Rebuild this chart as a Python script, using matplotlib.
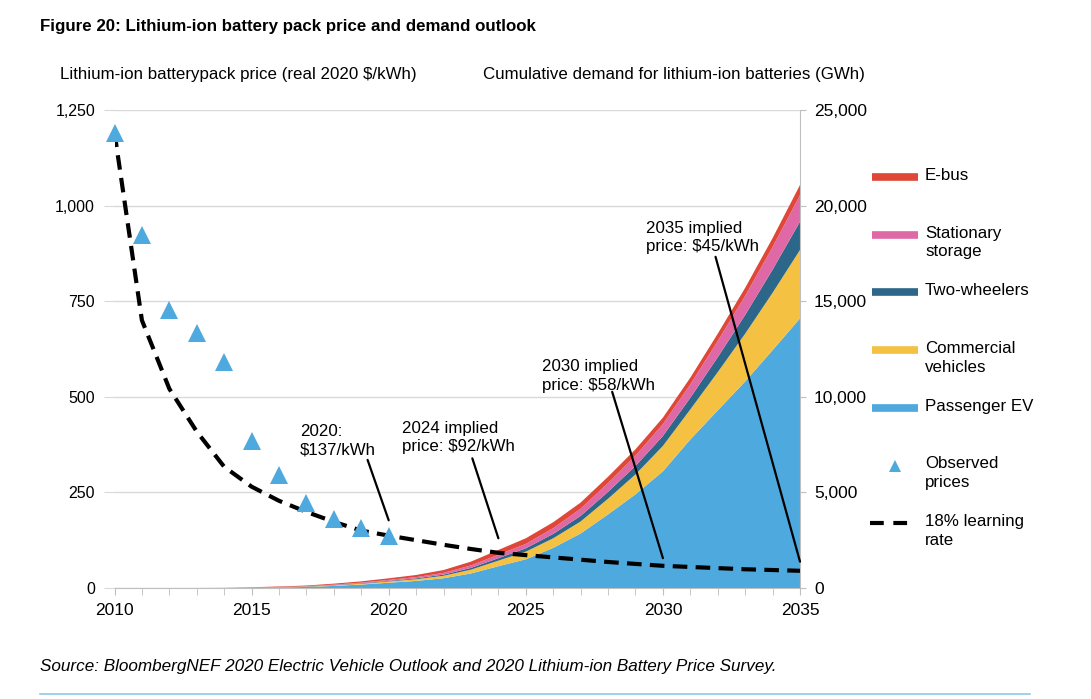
import matplotlib
matplotlib.use("Agg")
import matplotlib.pyplot as plt
from matplotlib.lines import Line2D
import numpy as np

plt.rcParams['font.family'] = ['Liberation Sans', 'DejaVu Sans']

# ---- data ----
years = list(range(2010, 2036))

# observed pack prices, real 2020 $/kWh
obs_years = list(range(2010, 2021))
obs_price = [1191, 924, 726, 668, 592, 384, 295, 221, 181, 157, 137]

# 18% learning-rate curve, $/kWh
learning_price = [1191, 700, 521, 409, 317, 265, 228, 199, 173, 150, 137,
                  125, 113, 102, 92, 86, 80, 74, 68, 63, 58, 55, 52, 49, 47, 45]

# cumulative demand by segment, GWh
passenger_ev = [0, 0, 0, 0, 1, 12, 30, 55, 110, 180, 277, 370, 510, 760, 1140,
                1500, 2100, 2850, 3850, 4900, 6100, 7770, 9290, 10800, 12440, 14100]
commercial = [0, 0, 0, 0, 1, 6, 12, 18, 30, 45, 65, 90, 130, 200, 290,
              400, 500, 630, 820, 1040, 1330, 1570, 2000, 2500, 3000, 3580]
two_wheelers = [0, 0, 0, 0, 1, 4, 7, 12, 18, 24, 32, 45, 60, 90, 130,
                175, 230, 290, 360, 440, 520, 610, 780, 980, 1210, 1480]
stationary = [0, 0, 0, 0, 0, 3, 6, 10, 20, 33, 50, 65, 90, 130, 180,
              230, 300, 380, 460, 540, 620, 700, 850, 1000, 1180, 1390]
ebus = [0, 0, 0, 0, 3, 15, 25, 35, 50, 66, 83, 110, 150, 200, 250,
        295, 310, 320, 330, 335, 340, 350, 380, 420, 470, 530]

seg_colors = ['#4ea9de', '#f4c143', '#2c6688', '#df69a6', '#df4738']

annotations = [
    ("2020:\n$137/kWh", 2020),
    ("2024 implied\nprice: $92/kWh", 2024),
    ("2030 implied\nprice: $58/kWh", 2030),
    ("2035 implied\nprice: $45/kWh", 2035),
]

W, H = 1091, 699
fig = plt.figure(figsize=(W / 100, H / 100), dpi=100)
fig.patch.set_facecolor('white')

def fx(px):
    return px / W

def fy(py):
    return 1 - py / H

ax = fig.add_axes([fx(114.5), fy(588), fx(800) - fx(114.5), fy(110) - fy(588)])
ax2 = ax.twinx()
ax.set_zorder(ax2.get_zorder() + 1)
ax.patch.set_visible(False)

grey = '#bfbfbf'

# stacked demand on the right axis
ax2.stackplot(years, passenger_ev, commercial, two_wheelers, stationary, ebus,
              colors=seg_colors, linewidth=0)
ax2.set_ylim(0, 25000)
ax2.set_yticks(np.arange(0, 25001, 5000))
ax2.set_yticklabels([f"{v:,}" for v in range(0, 25001, 5000)])
ax2.grid(axis='y', color='#d9d9d9', linewidth=1)
ax2.set_axisbelow(True)
ax2.tick_params(axis='y', length=4, color=grey, labelsize=12.5, pad=6)
for s in ['top', 'left', 'bottom']:
    ax2.spines[s].set_visible(False)
ax2.spines['right'].set_color(grey)

# prices on the left axis
ax.plot(years, learning_price, color='black', lw=3, dashes=(3.5, 2.0),
        solid_capstyle='butt')
ax.plot(obs_years, obs_price, linestyle='none', marker='^', markersize=12.5,
        color='#4ea9de', markeredgewidth=0, clip_on=False)
ax.set_xlim(2010, 2035)
ax.set_ylim(0, 1250)
ax.set_yticks(np.arange(0, 1251, 250))
ax.set_yticklabels([f"{v:,}" for v in range(0, 1251, 250)])
ax.set_xticks(range(2010, 2036, 5))
ax.set_xticks(range(2010, 2036), minor=True)
ax.tick_params(axis='x', which='both', length=5, color=grey, labelsize=12.5, pad=6)
ax.tick_params(axis='y', length=8, color='#d9d9d9', labelsize=11.5, pad=6)
for s in ['top', 'left', 'right']:
    ax.spines[s].set_visible(False)
ax.spines['bottom'].set_color(grey)

# annotations
lp = dict(zip(years, learning_price))
text_pos = {2020: (2016.77, 430), 2024: (2020.49, 438),
            2030: (2025.58, 598), 2035: (2029.37, 961)}
line_start = {2020: (2019.23, 335), 2024: (2023.05, 339),
              2030: (2028.15, 513), 2035: (2031.92, 866)}
line_end_offset = {2020: 40, 2024: 38, 2030: 20, 2035: 24}
for label, yr in annotations:
    tx, ty = text_pos[yr]
    ax.text(tx, ty, label, fontsize=12.2, va='top', ha='left', linespacing=1.3)
    ax.annotate('', xy=(yr, lp[yr] + line_end_offset[yr]), xytext=line_start[yr],
                arrowprops=dict(arrowstyle='-', color='black', lw=1.6,
                                shrinkA=0, shrinkB=0))

# legend drawn by hand on the right
leg_x0, leg_x1, txt_x = 872, 918, 925
y0, dy = 177, 57.7
entries = [('patch', seg_colors[4], 'E-bus'),
           ('patch', seg_colors[3], 'Stationary\nstorage'),
           ('patch', seg_colors[2], 'Two-wheelers'),
           ('patch', seg_colors[1], 'Commercial\nvehicles'),
           ('patch', seg_colors[0], 'Passenger EV'),
           ('marker', '#4ea9de', 'Observed\nprices'),
           ('dash', 'black', '18% learning\nrate')]
for i, (kind, col, lab) in enumerate(entries):
    yy = y0 + dy * i
    if kind == 'patch':
        fig.add_artist(Line2D([fx(leg_x0), fx(leg_x1)], [fy(yy), fy(yy)],
                              color=col, lw=5.5, solid_capstyle='butt'))
    elif kind == 'marker':
        fig.add_artist(Line2D([fx(895)], [fy(yy)], marker='^', markersize=8,
                              color=col, markeredgewidth=0, linestyle='none'))
    else:
        fig.add_artist(Line2D([fx(leg_x0 - 2), fx(leg_x1 - 3)], [fy(yy), fy(yy)],
                              color=col, lw=3, dashes=(3.3, 2.3)))
    fig.text(fx(txt_x), fy(yy - 9), lab, fontsize=12.2, va='top', ha='left',
             linespacing=1.3)

# titles and source
fig.text(fx(40), fy(26), "Figure 20: Lithium-ion battery pack price and demand outlook",
         fontsize=12.2, fontweight='bold', va='center', ha='left')
fig.text(fx(60), fy(74), "Lithium-ion batterypack price (real 2020 $/kWh)",
         fontsize=12.2, va='center', ha='left')
fig.text(fx(483), fy(74), "Cumulative demand for lithium-ion batteries (GWh)",
         fontsize=12.2, va='center', ha='left')
fig.text(fx(40), fy(666),
         "Source: BloombergNEF 2020 Electric Vehicle Outlook and 2020 Lithium-ion Battery Price Survey.",
         fontsize=12.3, style='italic', va='center', ha='left')
fig.add_artist(Line2D([fx(40), fx(1030)], [fy(694), fy(694)], color='#8ccbe8', lw=1.2))

fig.savefig('out.png', dpi=100)
